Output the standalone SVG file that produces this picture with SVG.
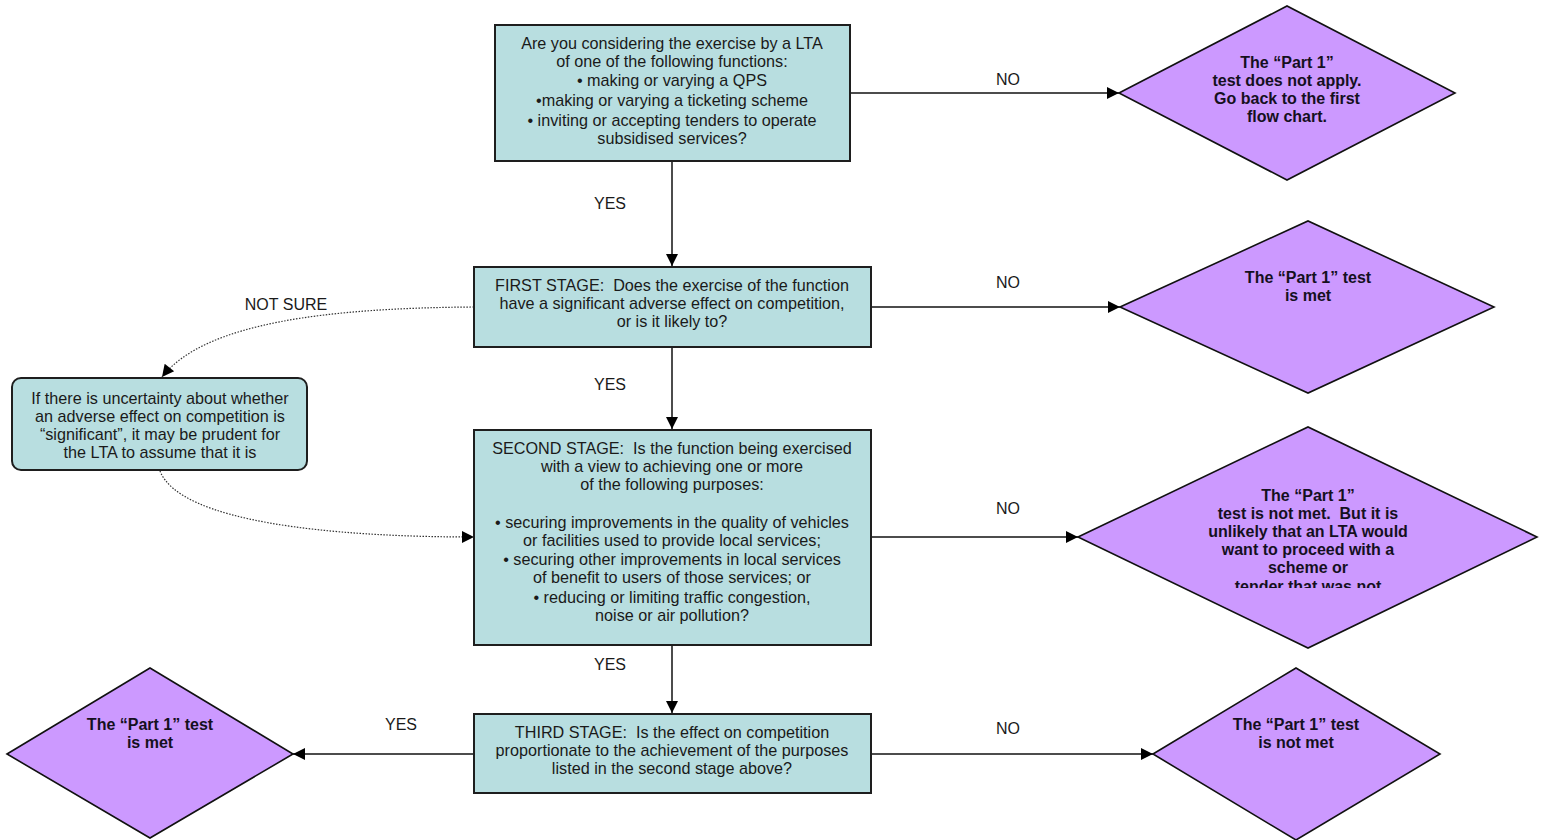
<svg xmlns="http://www.w3.org/2000/svg" width="1551" height="840" viewBox="0 0 1551 840">
<style>
  .box { fill: #b8dee0; stroke: #1e1e1e; stroke-width: 2; }
  .dia { fill: #cc99ff; stroke: #111; stroke-width: 1.6; }
  .t { font-family: "Liberation Sans", Arial, sans-serif; font-size: 16.2px; fill: #1a1a1a; text-anchor: middle; white-space: pre; }
  .b { font-family: "Liberation Sans", Arial, sans-serif; font-size: 16px; font-weight: bold; fill: #15101e; text-anchor: middle; white-space: pre; }
  .lbl { font-family: "Liberation Sans", Arial, sans-serif; font-size: 16px; fill: #1a1a1a; text-anchor: middle; }
  .c { fill: none; stroke: #111; stroke-width: 1.5; }
  .d { fill: none; stroke: #333; stroke-width: 1.2; stroke-dasharray: 1.5 1.5; }
</style>
<defs>
  <marker id="arr" viewBox="0 0 10 10" refX="10" refY="5" markerWidth="14" markerHeight="12" markerUnits="userSpaceOnUse" orient="auto">
    <path d="M0,0 L10,5 L0,10 z" fill="#000"/>
  </marker>
  <clipPath id="clip3">
    <rect x="1070" y="420" width="480" height="168"/>
  </clipPath>
</defs>
<rect width="1551" height="840" fill="#fff"/>

<g id="connectors">
  <line class="c" x1="850" y1="93" x2="1119" y2="93" marker-end="url(#arr)"/>
  <line class="c" x1="672" y1="161" x2="672" y2="266" marker-end="url(#arr)"/>
  <line class="c" x1="871" y1="307" x2="1120" y2="307" marker-end="url(#arr)"/>
  <line class="c" x1="672" y1="347" x2="672" y2="429" marker-end="url(#arr)"/>
  <line class="c" x1="871" y1="537" x2="1078" y2="537" marker-end="url(#arr)"/>
  <line class="c" x1="672" y1="645" x2="672" y2="713" marker-end="url(#arr)"/>
  <line class="c" x1="474" y1="754" x2="293" y2="754" marker-end="url(#arr)"/>
  <line class="c" x1="871" y1="754" x2="1153" y2="754" marker-end="url(#arr)"/>
  <path class="d" d="M474,307 C330,308 205,322 162,377" marker-end="url(#arr)"/>
  <path class="d" d="M160,471 C180,522 330,537 474,537" marker-end="url(#arr)"/>
  <text class="lbl" x="1008" y="85">NO</text>
  <text class="lbl" x="610" y="209">YES</text>
  <text class="lbl" x="1008" y="288">NO</text>
  <text class="lbl" x="286" y="310">NOT SURE</text>
  <text class="lbl" x="610" y="390">YES</text>
  <text class="lbl" x="1008" y="514">NO</text>
  <text class="lbl" x="610" y="670">YES</text>
  <text class="lbl" x="401" y="730">YES</text>
  <text class="lbl" x="1008" y="734">NO</text>
</g>

<g id="q0">
  <rect class="box" x="495" y="25" width="355" height="136"/>
  <text class="t" x="672" y="49">Are you considering the exercise by a LTA</text>
  <text class="t" x="672" y="67">of one of the following functions:</text>
  <text class="t" x="672" y="86">• making or varying a QPS</text>
  <text class="t" x="672" y="106">•making or varying a ticketing scheme</text>
  <text class="t" x="672" y="126">• inviting or accepting tenders to operate</text>
  <text class="t" x="672" y="144">subsidised services?</text>
</g>

<g id="d1">
  <polygon class="dia" points="1119,93 1287,6 1455,93 1287,180"/>
  <text class="b" x="1287" y="68">The “Part 1”</text>
  <text class="b" x="1287" y="86">test does not apply.</text>
  <text class="b" x="1287" y="104">Go back to the first</text>
  <text class="b" x="1287" y="122">flow chart.</text>
</g>

<g id="s1">
  <rect class="box" x="474" y="267" width="397" height="80"/>
  <text class="t" x="672" y="291">FIRST STAGE:  Does the exercise of the function</text>
  <text class="t" x="672" y="309">have a significant adverse effect on competition,</text>
  <text class="t" x="672" y="327">or is it likely to?</text>
</g>

<g id="d2">
  <polygon class="dia" points="1120,307 1308,221 1494,307 1308,393"/>
  <text class="b" x="1308" y="283">The “Part 1” test</text>
  <text class="b" x="1308" y="301">is met</text>
</g>

<g id="note">
  <rect class="box" x="12" y="378" width="295" height="92" rx="9" ry="9"/>
  <text class="t" x="160" y="404">If there is uncertainty about whether</text>
  <text class="t" x="160" y="422">an adverse effect on competition is</text>
  <text class="t" x="160" y="440">“significant”, it may be prudent for</text>
  <text class="t" x="160" y="458">the LTA to assume that it is</text>
</g>

<g id="s2">
  <rect class="box" x="474" y="430" width="397" height="215"/>
  <text class="t" x="672" y="454">SECOND STAGE:  Is the function being exercised</text>
  <text class="t" x="672" y="472">with a view to achieving one or more</text>
  <text class="t" x="672" y="490">of the following purposes:</text>
  <text class="t" x="672" y="528">• securing improvements in the quality of vehicles</text>
  <text class="t" x="672" y="546">or facilities used to provide local services;</text>
  <text class="t" x="672" y="565">• securing other improvements in local services</text>
  <text class="t" x="672" y="583">of benefit to users of those services; or</text>
  <text class="t" x="672" y="603">• reducing or limiting traffic congestion,</text>
  <text class="t" x="672" y="621">noise or air pollution?</text>
</g>

<g id="d3">
  <polygon class="dia" points="1078,537 1308,427 1537,537 1308,648"/>
  <g clip-path="url(#clip3)">
    <text class="b" x="1308" y="501">The “Part 1”</text>
    <text class="b" x="1308" y="519">test is not met.  But it is</text>
    <text class="b" x="1308" y="537">unlikely that an LTA would</text>
    <text class="b" x="1308" y="555">want to proceed with a</text>
    <text class="b" x="1308" y="573">scheme or</text>
    <text class="b" x="1308" y="592">tender that was not</text>
  </g>
</g>

<g id="s3">
  <rect class="box" x="474" y="714" width="397" height="79"/>
  <text class="t" x="672" y="738">THIRD STAGE:  Is the effect on competition</text>
  <text class="t" x="672" y="756">proportionate to the achievement of the purposes</text>
  <text class="t" x="672" y="774">listed in the second stage above?</text>
</g>

<g id="d4">
  <polygon class="dia" points="7,754 150,668 293,754 150,838"/>
  <text class="b" x="150" y="730">The “Part 1” test</text>
  <text class="b" x="150" y="748">is met</text>
</g>

<g id="d5">
  <polygon class="dia" points="1153,754 1296,668 1440,754 1296,840"/>
  <text class="b" x="1296" y="730">The “Part 1” test</text>
  <text class="b" x="1296" y="748">is not met</text>
</g>
</svg>
